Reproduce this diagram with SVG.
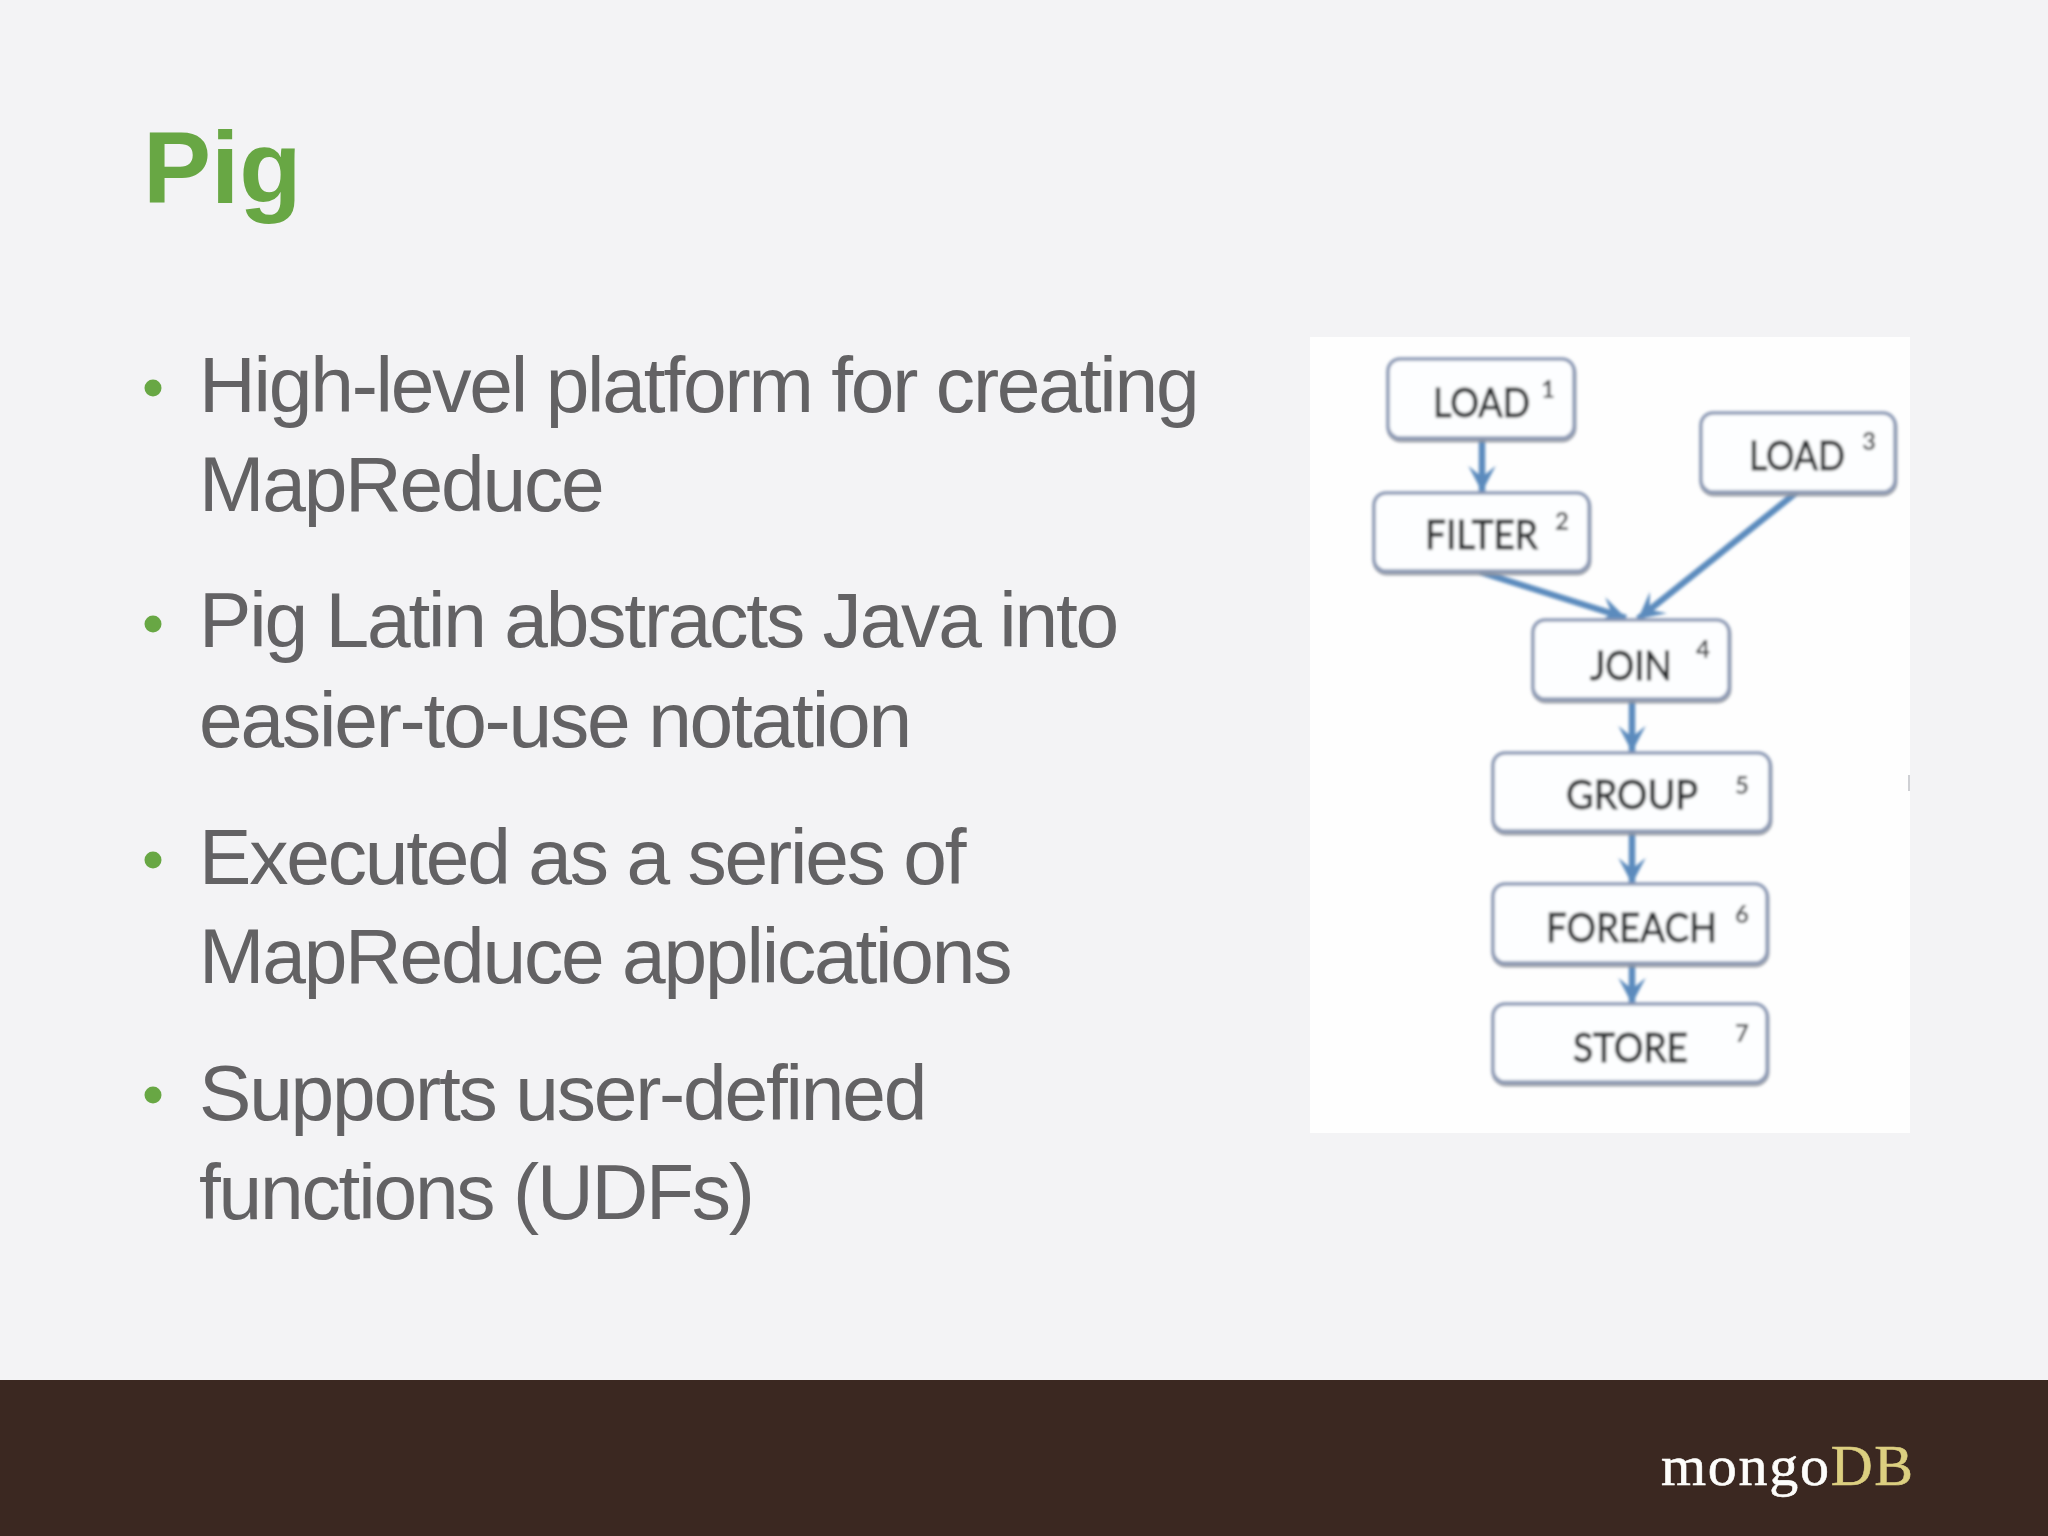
<svg xmlns="http://www.w3.org/2000/svg" width="2048" height="1536" viewBox="0 0 2048 1536">
<defs>
<style>
.title{font-family:"Liberation Sans",Arial,sans-serif;font-weight:700;font-size:102px;fill:#68a744}
.body{font-family:"Liberation Sans",Arial,sans-serif;font-size:78.5px;fill:#636264;letter-spacing:-2.2px}
.dot{fill:#68a744}
.box{fill:#fdfeff;stroke:#8c9ab5;stroke-width:3.5}
.shade{fill:none;stroke:#8f949e;stroke-width:5;opacity:.85}
.lbl{font-family:Lato,"Liberation Sans",sans-serif;font-size:40px;fill:#2a2d2f;stroke:#2a2d2f;stroke-width:1}
.num{font-family:Lato,"Liberation Sans",sans-serif;font-size:24px;font-weight:700;fill:#4a4c4e;text-anchor:middle}
.edge{fill:none;stroke:#5b8bbd;stroke-width:6.5;marker-end:url(#head)}
.logo{font-family:"Liberation Serif","Times New Roman",serif;font-size:58px;letter-spacing:1.7px;stroke-width:.6}
</style>
<marker id="head" markerUnits="userSpaceOnUse" markerWidth="30" markerHeight="30" refX="22" refY="12" orient="auto" viewBox="0 0 24 24">
<path d="M1 1 L22 12 L1 23 L10 12 Z" fill="#5b8bbd"/>
</marker>
<filter id="soft" x="-2%" y="-2%" width="104%" height="104%"><feGaussianBlur stdDeviation="1.4"/></filter>
</defs>
<rect width="2048" height="1536" fill="#f3f3f5"/>
<rect y="1380" width="2048" height="156" fill="#3b2821"/>
<text class="title" x="143" y="203">Pig</text>
<g id="bullets">
<circle class="dot" cx="153" cy="388" r="8.5"/>
<circle class="dot" cx="153" cy="624" r="8.5"/>
<circle class="dot" cx="153" cy="860" r="8.5"/>
<circle class="dot" cx="153" cy="1095" r="8.5"/>
<text class="body" x="199" y="412">High-level platform for creating</text>
<text class="body" x="199" y="511">MapReduce</text>
<text class="body" x="199" y="647">Pig Latin abstracts Java into</text>
<text class="body" x="199" y="747">easier-to-use notation</text>
<text class="body" x="199" y="884">Executed as a series of</text>
<text class="body" x="199" y="983">MapReduce applications</text>
<text class="body" x="199" y="1120">Supports user-defined</text>
<text class="body" x="199" y="1219">functions (UDFs)</text>
</g>
<rect x="1310" y="337" width="600" height="796" fill="#fefefe"/>
<rect x="1908" y="775" width="2" height="16" fill="#cfd0d4"/>
<g filter="url(#soft)">
<g id="connectors">
<path class="edge" d="M1482 438V492"/>
<path class="edge" d="M1480 572L1626 618"/>
<path class="edge" d="M1797 492L1638 619"/>
<path class="edge" d="M1632 699V752"/>
<path class="edge" d="M1632 831V884"/>
<path class="edge" d="M1632 963V1004"/>
</g>
<g id="load1"><rect class="shade" x="1389" y="361" width="185" height="79" rx="12"/><rect class="box" x="1388" y="359" width="186" height="79" rx="12"/><text class="lbl" x="1433" y="417" textLength="97" lengthAdjust="spacingAndGlyphs">LOAD</text><text class="num" x="1548" y="398">1</text></g>
<g id="load3"><rect class="shade" x="1702" y="415" width="193" height="79" rx="12"/><rect class="box" x="1701" y="413" width="194" height="79" rx="12"/><text class="lbl" x="1749" y="470" textLength="96" lengthAdjust="spacingAndGlyphs">LOAD</text><text class="num" x="1869" y="450">3</text></g>
<g id="filter"><rect class="shade" x="1375" y="495" width="214" height="78" rx="12"/><rect class="box" x="1374" y="493" width="215" height="78" rx="12"/><text class="lbl" x="1425" y="549" textLength="113" lengthAdjust="spacingAndGlyphs">FILTER</text><text class="num" x="1562" y="530">2</text></g>
<g id="join"><rect class="shade" x="1534" y="622" width="195" height="79" rx="12"/><rect class="box" x="1533" y="620" width="196" height="79" rx="12"/><text class="lbl" x="1590" y="680" textLength="82" lengthAdjust="spacingAndGlyphs">JOIN</text><text class="num" x="1703" y="658">4</text></g>
<g id="group"><rect class="shade" x="1494" y="755" width="276" height="78" rx="12"/><rect class="box" x="1493" y="753" width="277" height="78" rx="12"/><text class="lbl" x="1566" y="809" textLength="132" lengthAdjust="spacingAndGlyphs">GROUP</text><text class="num" x="1742" y="794">5</text></g>
<g id="foreach"><rect class="shade" x="1494" y="886" width="273" height="79" rx="12"/><rect class="box" x="1493" y="884" width="274" height="79" rx="12"/><text class="lbl" x="1546" y="942" textLength="171" lengthAdjust="spacingAndGlyphs">FOREACH</text><text class="num" x="1742" y="923">6</text></g>
<g id="store"><rect class="shade" x="1494" y="1006" width="273" height="78" rx="12"/><rect class="box" x="1493" y="1004" width="274" height="78" rx="12"/><text class="lbl" x="1573" y="1062" textLength="115" lengthAdjust="spacingAndGlyphs">STORE</text><text class="num" x="1742" y="1042">7</text></g>
</g>
<text class="logo" x="1661" y="1485"><tspan fill="#fdfdfb" stroke="#fdfdfb">mongo</tspan><tspan fill="#dccf80" stroke="#dccf80">DB</tspan></text>
</svg>
